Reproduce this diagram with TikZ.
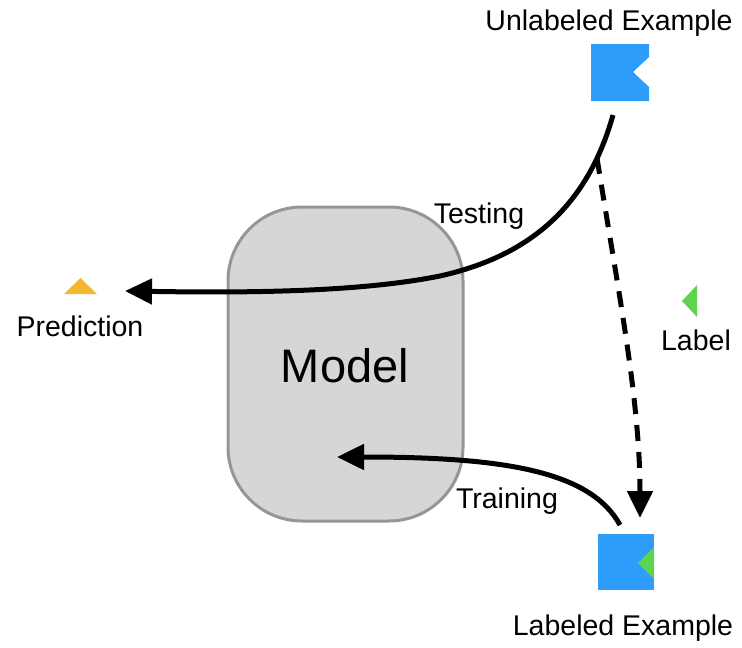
\documentclass[tikz,border=0pt]{standalone}
\usepackage{fontspec}
\setmainfont{Liberation Sans}
\usetikzlibrary{arrows.meta}
\definecolor{iconblue}{RGB}{45,156,251}
\definecolor{icongreen}{RGB}{94,212,78}
\definecolor{iconorange}{RGB}{244,183,49}
\definecolor{modelfill}{RGB}{214,214,214}
\definecolor{modeldraw}{RGB}{150,150,150}
\tikzset{
  lbl/.style={font=\fontsize{28.5}{30}\selectfont, anchor=base, inner sep=0pt},
  flow/.style={line width=5pt, -{Triangle[length=27pt,width=25pt]}},
}
\begin{document}
\begin{tikzpicture}[x=1pt,y=-1pt]
\useasboundingbox (0,0) rectangle (742,648);
% model
\draw[fill=modelfill, draw=modeldraw, line width=3pt, rounded corners=74pt] (228,207) rectangle (463,521);
\node[font=\fontsize{47}{50}\selectfont, anchor=base, inner sep=0pt] (model) at (345,382) {Model};
% unlabeled example icon
\fill[iconblue] (591,44) -- (649,44) -- (649,57) -- (633,72) -- (649,87) -- (649,101) -- (591,101) -- cycle;
\node[lbl] (unl) at (609,30) {Unlabeled Example};
% labeled example icon
\fill[iconblue] (598,534) rectangle (654,590);
\fill[icongreen] (654,547) -- (638,563) -- (654,579) -- cycle;
\node[lbl] (lab) at (623,635) {Labeled Example};
% prediction
\fill[iconorange] (64,294) -- (80.5,278) -- (97,294) -- cycle;
\node[lbl] (pred) at (80,336) {Prediction};
% label
\fill[icongreen] (697,285) -- (682,301) -- (697,317) -- cycle;
\node[lbl] (labtxt) at (696,350) {Label};
% coordinates
\coordinate (tstart) at (613,115);
\coordinate (tmid) at (440,276);
\coordinate (tend) at (125,291);
\coordinate (dstart) at (597,158);
\coordinate (dend) at (640,518);
\coordinate (rstart) at (620,525);
\coordinate (rend) at (337,457);
% arrows
\draw[flow] (tstart) .. controls (585,215) and (520,258) .. (tmid) .. controls (360,292) and (250,293) .. (tend);
\node[lbl] (testing) at (479,223) {Testing};
\draw[flow, dash pattern=on 16pt off 11pt] (dstart) .. controls (618,290) and (640,400) .. (dend);
\draw[flow] (rstart) .. controls (590,470) and (500,457) .. (rend);
\node[lbl] (training) at (507,508) {Training};
\end{tikzpicture}
\end{document}
